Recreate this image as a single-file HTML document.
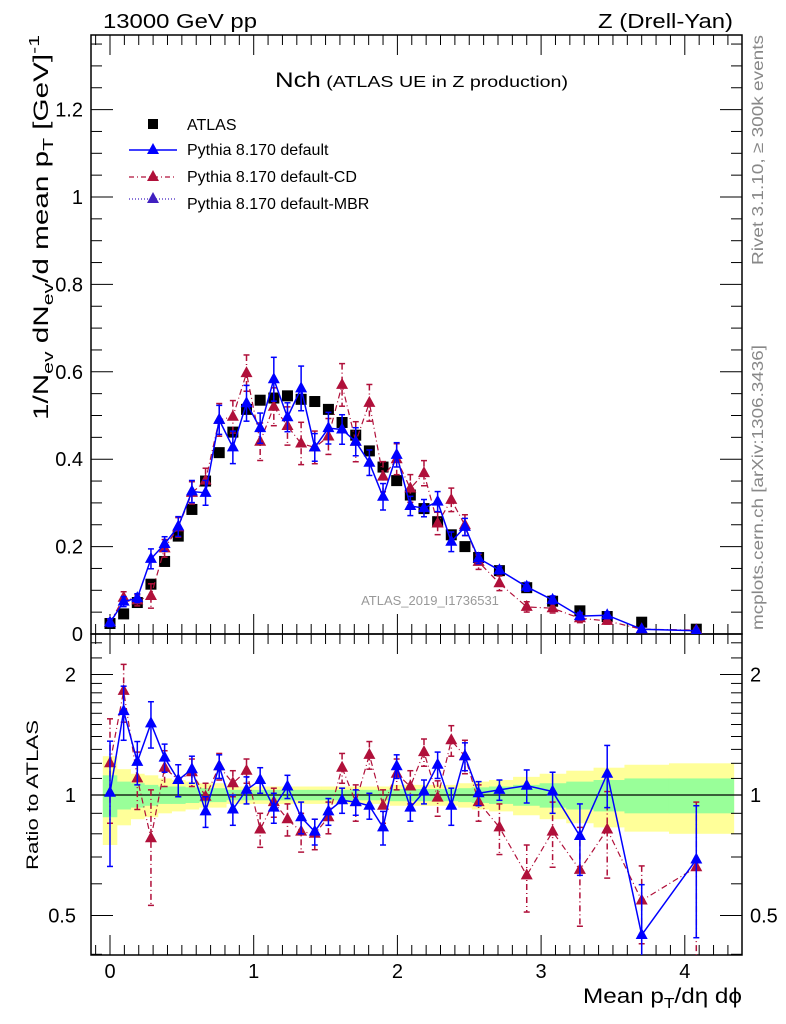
<!DOCTYPE html>
<html><head><meta charset="utf-8">
<style>
html,body{margin:0;padding:0;background:#fff;}
svg{display:block;font-family:"Liberation Sans",Arial,sans-serif;}
</style></head>
<body>
<svg id="chart" width="786" height="1024" viewBox="0 0 786 1024">
<text x="103" y="28" font-size="20" textLength="154" lengthAdjust="spacingAndGlyphs">13000 GeV pp</text>
<text x="598" y="28" font-size="20" textLength="135" lengthAdjust="spacingAndGlyphs">Z (Drell-Yan)</text>
<text x="275" y="87" textLength="293" lengthAdjust="spacingAndGlyphs"><tspan font-size="21">Nch</tspan><tspan font-size="16"> (ATLAS UE in Z production)</tspan></text>
<text x="430" y="605" font-size="13" fill="#999" text-anchor="middle">ATLAS_2019_I1736531</text>
<text transform="translate(763,265) rotate(-90)" font-size="16" fill="#888" textLength="230" lengthAdjust="spacingAndGlyphs">Rivet 3.1.10, ≥ 300k events</text>
<text transform="translate(763,630) rotate(-90)" font-size="16" fill="#888" textLength="285" lengthAdjust="spacingAndGlyphs">mcplots.cern.ch [arXiv:1306.3436]</text>
<text transform="translate(48,420) rotate(-90)" font-size="21" textLength="385" lengthAdjust="spacingAndGlyphs">1/N<tspan font-size="15" dy="5">ev</tspan><tspan dy="-5"> dN</tspan><tspan font-size="15" dy="5">ev</tspan><tspan dy="-5">/d mean p</tspan><tspan font-size="15" dy="5">T</tspan><tspan dy="-5"> [GeV]</tspan><tspan font-size="15" dy="-9">-1</tspan></text>
<text transform="translate(38,870) rotate(-90)" font-size="17" textLength="150" lengthAdjust="spacingAndGlyphs">Ratio to ATLAS</text>
<text x="583" y="1003" font-size="21" textLength="159" lengthAdjust="spacingAndGlyphs">Mean p<tspan font-size="15" dy="5">T</tspan><tspan dy="-5">/dη dϕ</tspan></text>
<g id="legend">
<rect x="148" y="119" width="10" height="10" fill="#000"/>
<text x="187" y="130" font-size="16">ATLAS</text>
<line x1="129" y1="150" x2="177" y2="150" stroke="#0000ff" stroke-width="1.5"/>
<polygon points="153,143 147,154 159,154" fill="#0000ff"/>
<text x="187" y="155" font-size="16">Pythia 8.170 default</text>
<line x1="129" y1="177" x2="177" y2="177" stroke="#b0103a" stroke-width="1.2" stroke-dasharray="5,3,1,3"/>
<polygon points="153,170 147,181 159,181" fill="#b0103a"/>
<text x="187" y="182" font-size="16">Pythia 8.170 default-CD</text>
<line x1="129" y1="199" x2="177" y2="199" stroke="#4020c0" stroke-width="1.2" stroke-dasharray="1,2"/>
<polygon points="153,192 147,203 159,203" fill="#4020c0"/>
<text x="187" y="209" font-size="16">Pythia 8.170 default-MBR</text>
</g>
</svg>
<script>
const xVals=[0,0.095,0.19,0.285,0.38,0.475,0.57,0.665,0.76,0.855,0.95,1.045,1.14,1.235,1.33,1.425,1.52,1.615,1.71,1.805,1.9,1.995,2.09,2.185,2.28,2.375,2.47,2.565,2.71,2.90,3.08,3.27,3.46,3.70,4.08];
const atlasVals=[0.024,0.046,0.072,0.114,0.166,0.224,0.285,0.35,0.415,0.462,0.514,0.535,0.54,0.545,0.537,0.532,0.514,0.484,0.455,0.419,0.382,0.351,0.318,0.287,0.257,0.227,0.2,0.175,0.145,0.106,0.075,0.053,0.04,0.027,0.011];
const defaultVals=[0.026,0.074,0.082,0.172,0.206,0.246,0.326,0.323,0.49,0.427,0.528,0.471,0.583,0.496,0.562,0.427,0.471,0.468,0.44,0.392,0.314,0.41,0.293,0.288,0.303,0.211,0.245,0.173,0.146,0.108,0.078,0.041,0.043,0.011,0.0075];
const cdVals=[0.026,0.083,0.077,0.087,0.196,0.244,0.323,0.351,0.49,0.497,0.597,0.44,0.52,0.476,0.436,0.427,0.452,0.57,0.44,0.529,0.36,0.40,0.333,0.368,0.253,0.307,0.249,0.165,0.116,0.062,0.059,0.036,0.03,0.011,0.009];
const defaultRatio=[1.013,1.62,1.21,1.51,1.24,1.09,1.16,0.91,1.18,0.92,1.03,1.09,0.93,1.05,0.88,0.81,0.91,0.97,0.96,0.94,0.83,1.18,0.93,1.02,1.19,0.94,1.25,1.01,1.03,1.055,1.02,0.79,1.13,0.447,0.69];
const cdRatio=[1.20,1.82,1.10,0.78,1.17,1.09,1.14,0.99,1.18,1.07,1.15,0.82,0.96,0.87,0.81,0.80,0.88,1.17,0.96,1.26,0.94,1.13,1.05,1.28,0.985,1.37,1.25,0.96,0.83,0.63,0.81,0.65,0.82,0.545,0.66];
const defaultErr=[.35,.25,.15,.2,.1,.1,.09,.08,.08,.08,.08,.08,.08,.07,.08,.06,.07,.07,.07,.07,.08,.08,.07,.07,.09,.1,.1,.07,.06,.1,.12,.16,.2,.15,.25];
const cdErr=[.35,.3,.18,.25,.12,.1,.09,.08,.09,.08,.08,.08,.08,.08,.09,.07,.08,.1,.1,.1,.09,.1,.1,.1,.1,.12,.12,.1,.12,.12,.15,.18,.2,.12,.3];
const statBand=[.12,.08,.07,.06,.05,.05,.045,.04,.04,.03,.03,.03,.03,.03,.03,.03,.03,.03,.03,.03,.03,.035,.035,.035,.035,.035,.04,.045,.05,.06,.07,.08,.09,.1,.1];
const totBand=[.25,.16,.13,.12,.10,.09,.08,.07,.07,.05,.05,.05,.05,.05,.05,.05,.05,.05,.05,.05,.05,.06,.06,.06,.06,.06,.07,.08,.09,.11,.13,.15,.17,.19,.2];
const mainTicks=[0,0.2,0.4,0.6,0.8,1,1.2];
const mainTickLabels=["0","0.2","0.4","0.6","0.8","1","1.2"];
const xTicks=[0,1,2,3,4];
const xTickLabels=["0","1","2","3","4"];
const ratioTicks=[0.5,1,2];
const ratioTickLabels=["0.5","1","2"];

const NS="http://www.w3.org/2000/svg";
const svg=document.getElementById('chart');
const L=91,R=742,T=35,M=634,B=955;
function xS(v){return 110+v*143.7;}
function yM(v){return 634-v*437;}
function yR(r){return 795-Math.log2(r)*120.5;}
function mk(tag,attrs,parent){const e=document.createElementNS(NS,tag);for(const k in attrs)e.setAttribute(k,attrs[k]);(parent||svg).appendChild(e);return e;}

const defs=mk('defs',{});
const c1=mk('clipPath',{id:'cm'},defs);mk('rect',{x:L,y:T,width:R-L,height:M-T},c1);
const c2=mk('clipPath',{id:'cr'},defs);mk('rect',{x:L,y:M,width:R-L,height:B-M},c2);

const edges=[];
edges.push(xVals[0]-0.05);
for(let i=0;i<xVals.length-1;i++)edges.push((xVals[i]+xVals[i+1])/2);
edges.push(4.34);
const gBand=mk('g',{'clip-path':'url(#cr)'});


for(let i=0;i<xVals.length;i++){
  const r=mk('rect',{x:xS(edges[i]),width:xS(edges[i+1])-xS(edges[i])+0.5,y:yR(1+totBand[i]),height:yR(1-totBand[i])-yR(1+totBand[i]),fill:'#ffff99'},gBand);
  
  
}
for(let i=0;i<xVals.length;i++){
  const r=mk('rect',{x:xS(edges[i]),width:xS(edges[i+1])-xS(edges[i])+0.5,y:yR(1+statBand[i]),height:yR(1-statBand[i])-yR(1+statBand[i]),fill:'#99ff99'},gBand);
  
  
}
const one=mk('line',{x1:L,x2:R,y1:yR(1),y2:yR(1),stroke:'#000','stroke-width':1.3});



const f1=mk('rect',{x:L,y:T,width:R-L,height:M-T,fill:'none',stroke:'#000','stroke-width':1.5});


const f2=mk('rect',{x:L,y:M,width:R-L,height:B-M,fill:'none',stroke:'#000','stroke-width':1.5});



const axg=mk('g',{stroke:'#000','stroke-width':1});


for(let v=-0.1;v<=4.4;v+=0.1){
  const vv=Math.round(v*10)/10;const x=xS(vv);if(x<L||x>R)continue;
  const major=Math.abs(vv-Math.round(vv))<1e-6;const len=major?20:10;
  mk('line',{x1:x,x2:x,y1:M,y2:M-len},axg);mk('line',{x1:x,x2:x,y1:T,y2:T+len},axg);
  mk('line',{x1:x,x2:x,y1:B,y2:B-len},axg);mk('line',{x1:x,x2:x,y1:M,y2:M+len},axg);
}
for(let v=0;v<=1.36;v+=0.05){
  const vv=Math.round(v*100)/100;const y=yM(vv);if(y<T)continue;
  const major=Math.abs(vv*5-Math.round(vv*5))<1e-6;const len=major?22:11;
  mk('line',{x1:L,x2:L+len,y1:y,y2:y},axg);mk('line',{x1:R,x2:R-len,y1:y,y2:y},axg);
}
mainTicks.forEach((v,i)=>{
  const t=mk('text',{x:83,y:yM(v)+7,'font-size':20,'text-anchor':'end'});t.textContent=mainTickLabels[i];
  
  
});
const rMinor=[0.4,0.5,0.6,0.7,0.8,0.9,1,2,1.1,1.2,1.3,1.4,1.5,1.6,1.7,1.8,1.9,2.2,2.4];
rMinor.forEach(v=>{const y=yR(v);if(y<M||y>B)return;const major=ratioTicks.includes(v);const len=major?22:11;
  mk('line',{x1:L,x2:L+len,y1:y,y2:y},axg);mk('line',{x1:R,x2:R-len,y1:y,y2:y},axg);});
ratioTicks.forEach((v,i)=>{
  const t=mk('text',{x:76,y:yR(v)+7,'font-size':20,'text-anchor':'end'});t.textContent=ratioTickLabels[i];
  
  
  const t2=mk('text',{x:750,y:yR(v)+7,'font-size':20});t2.textContent=ratioTickLabels[i];
  
  
});
xTicks.forEach((v,i)=>{
  const t=mk('text',{x:xS(v),y:978,'font-size':20,'text-anchor':'middle'});t.textContent=xTickLabels[i];
  
  
});

function tri(g,x,y,c){mk('polygon',{points:`${x},${y-7} ${x-6},${y+4} ${x+6},${y+4}`,fill:c},g);}
function series(vals,ratios,errs,color,dash,name){
  const gm=mk('g',{'clip-path':'url(#cm)'});
  
  
  const gr=mk('g',{'clip-path':'url(#cr)'});
  
  
  const sw=name==='default'?1.5:1.2;
  mk('polyline',{points:vals.map((v,i)=>xS(xVals[i])+','+yM(v)).join(' '),fill:'none',stroke:color,'stroke-width':sw,'stroke-dasharray':dash},gm);
  mk('polyline',{points:ratios.map((v,i)=>xS(xVals[i])+','+yR(v)).join(' '),fill:'none',stroke:color,'stroke-width':sw,'stroke-dasharray':dash},gr);
  vals.forEach((v,i)=>{
    const x=xS(xVals[i]);const rel=errs[i]/ratios[i];const e=v*rel;
    mk('line',{x1:x,x2:x,y1:yM(v+e),y2:yM(v-e),stroke:color,'stroke-width':1.5,'stroke-dasharray':dash},gm);
    mk('line',{x1:x-3,x2:x+3,y1:yM(v+e),y2:yM(v+e),stroke:color,'stroke-width':1.5},gm);
    mk('line',{x1:x-3,x2:x+3,y1:yM(v-e),y2:yM(v-e),stroke:color,'stroke-width':1.5},gm);
    tri(gm,x,yM(v),color);
  });
  ratios.forEach((v,i)=>{
    const x=xS(xVals[i]);const e=errs[i];
    mk('line',{x1:x,x2:x,y1:yR(v+e),y2:yR(Math.max(v-e,0.3)),stroke:color,'stroke-width':1.5,'stroke-dasharray':dash},gr);
    mk('line',{x1:x-3,x2:x+3,y1:yR(v+e),y2:yR(v+e),stroke:color,'stroke-width':1.5},gr);
    mk('line',{x1:x-3,x2:x+3,y1:yR(Math.max(v-e,0.3)),y2:yR(Math.max(v-e,0.3)),stroke:color,'stroke-width':1.5},gr);
    tri(gr,x,yR(v),color);
  });
}
const ga=mk('g',{'clip-path':'url(#cm)'});


atlasVals.forEach((v,i)=>{
  const r=mk('rect',{x:xS(xVals[i])-5.5,y:yM(v)-5.5,width:11,height:11,fill:'#000'},ga);
  
  
});
series(cdVals,cdRatio,cdErr,'#b0103a','6,3,1,3','default-cd');
series(defaultVals,defaultRatio,defaultErr,'#0000ff','','default');
</script>
</body></html>
